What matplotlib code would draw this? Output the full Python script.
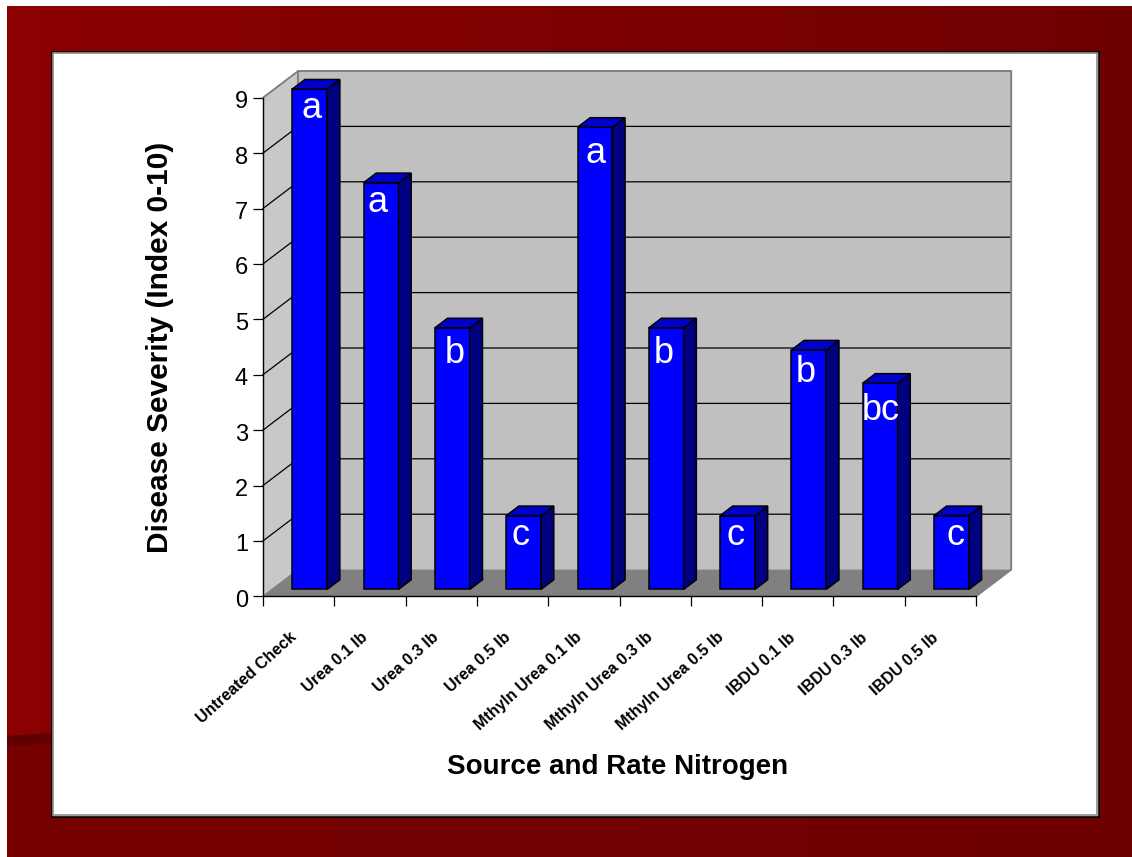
import numpy as np
import matplotlib
matplotlib.use("Agg")
import matplotlib.pyplot as plt
from matplotlib.patches import Polygon, Rectangle
from matplotlib.transforms import ScaledTranslation

categories = ["Untreated Check", "Urea 0.1 lb", "Urea 0.3 lb", "Urea 0.5 lb",
              "Mthyln Urea 0.1 lb", "Mthyln Urea 0.3 lb", "Mthyln Urea 0.5 lb",
              "IBDU 0.1 lb", "IBDU 0.3 lb", "IBDU 0.5 lb"]
severity = [9.03, 7.34, 4.72, 1.33, 8.34, 4.72, 1.33, 4.32, 3.72, 1.33]
letters = ["a", "a", "b", "c", "a", "b", "c", "b", "bc", "c"]
y_ticks = list(range(0, 10))
letter_dx = [0, -5, 1, -5, -1, -4, -3, -5, -1, 3]
letter_dy = [1, 0, -5, 0, -6, -5, 0, -2, -7, 0]

W, H = 1132, 857
plt.rcParams['font.family'] = ['Liberation Sans', 'DejaVu Sans']
fig = plt.figure(figsize=(W / 100, H / 100), dpi=100, facecolor='white')

# slide background (pixel coordinates)
bg = fig.add_axes([0, 0, 1, 1])
bg.axis('off')
grad = np.zeros((2, 256, 3))
grad[:, :, 0] = np.linspace(140, 111, 256) / 255
bg.imshow(grad, extent=(7, W, 745, 6), aspect='auto', zorder=0)
low = np.zeros((2, 256, 3))
low[:, :, 0] = np.linspace(118, 111, 256) / 255
im_low = bg.imshow(low, extent=(7, W, H, 700), aspect='auto', zorder=1)
clip = Polygon([(7, 736), (52, 733), (1132, 700), (1132, H), (7, H)], closed=True,
               transform=bg.transData, fc='none', ec='none')
bg.add_patch(clip)
im_low.set_clip_path(clip)
bg.set_xlim(0, W)
bg.set_ylim(H, 0)
bg.add_patch(Polygon([(7, 736), (52, 733), (52, 743), (7, 747)], closed=True,
                     fc='#620000', ec='none', zorder=2))
bg.add_patch(Rectangle((51.5, 51.5), 1047, 765, fc='white', ec='black', lw=1.2, zorder=3))
bg.add_patch(Rectangle((53, 53), 1044, 762, fc='none', ec='#8a8a8a', lw=1.2, zorder=4))

# chart axes: front plane of the 3-D box
x0, x1, y0, y9 = 263, 976, 596.3, 97.7
ax = fig.add_axes([x0 / W, 1 - y0 / H, (x1 - x0) / W, (y0 - y9) / H])
ax.patch.set_visible(False)
ax.set_xlim(0, len(categories))
ax.set_ylim(0, 9)
n = len(categories)
DX = 35.2 / ((x1 - x0) / n)
DY = 26.7 / ((y0 - y9) / 9)
GREY = '#808080'
WALL = '#C0C0C0'

ax.add_patch(Polygon([(0, 0), (DX, DY), (DX, 9 + DY), (0, 9)], closed=True, fc='#C8C8C8', ec='none', zorder=1, clip_on=False))
ax.add_patch(Polygon([(DX, DY), (n + DX, DY), (n + DX, 9 + DY), (DX, 9 + DY)], closed=True, fc=WALL, ec='none', zorder=1, clip_on=False))
ax.add_patch(Polygon([(0, 0), (n, 0), (n + DX, DY), (DX, DY)], closed=True, fc=GREY, ec='none', zorder=1, clip_on=False))

for v in y_ticks[1:-1]:
    ax.plot([0, DX, n + DX], [v, v + DY, v + DY], color='black', lw=0.9, zorder=2, clip_on=False)
ax.plot([0, DX, n + DX, n + DX, n], [9, 9 + DY, 9 + DY, DY, 0], color=GREY, lw=1.4, zorder=2, clip_on=False)
ax.plot([DX, DX], [DY, 9 + DY], color=GREY, lw=1.4, zorder=2, clip_on=False)
ax.plot([0, DX], [0, DY], color=GREY, lw=1.0, zorder=2, clip_on=False)

# bars
f0, f1 = 0.262, 0.62
lft, wid = 0.282, 0.49
for i, (v, lab) in enumerate(zip(severity, letters)):
    xa = i + lft + f0 * DX
    xb = xa + wid
    ya = f0 * DY
    yb = ya + v
    ddx, ddy = (f1 - f0) * DX, (f1 - f0) * DY
    edge = dict(ec='black', lw=1.1, joinstyle='miter', zorder=3, clip_on=False)
    ax.add_patch(Polygon([(xa, ya), (xb, ya), (xb, yb), (xa, yb)], closed=True, fc='#0000FF', **edge))
    ax.add_patch(Polygon([(xb, ya), (xb + ddx, ya + ddy), (xb + ddx, yb + ddy), (xb, yb)], closed=True, fc='#000080', **edge))
    ax.add_patch(Polygon([(xa, yb), (xb, yb), (xb + ddx, yb + ddy), (xa + ddx, yb + ddy)], closed=True, fc='#0000CC', **edge))
    ax.annotate(lab, (xa + wid / 2, yb),
                xytext=(1 + letter_dx[i] * 0.72, -2 + letter_dy[i] * 0.72), textcoords='offset points',
                ha='center', va='top', color='white', fontsize=26, zorder=4, annotation_clip=False)

# axes, ticks, labels
for s in ('top', 'right'):
    ax.spines[s].set_visible(False)
for s in ('left', 'bottom'):
    ax.spines[s].set_linewidth(1.0)
    ax.spines[s].set_zorder(5)
ax.set_yticks(y_ticks)
ax.tick_params(axis='y', length=7.2, width=0.9, pad=3.6, labelsize=17)
ax.yaxis.get_major_ticks()[-1].tick1line.set_color(GREY)
shift = ScaledTranslation(0, -1.5 / 72, fig.dpi_scale_trans)
for lbl in ax.get_yticklabels():
    lbl.set_transform(lbl.get_transform() + shift)
ax.set_xticks(np.arange(n + 1))
ax.set_xticklabels([])
ax.tick_params(axis='x', which='major', length=7.2, width=0.9)
ax.set_xticks(np.arange(n) + 0.37, minor=True)
ax.set_xticklabels(categories, minor=True, rotation=42, ha='right', rotation_mode='anchor',
                   fontsize=11.6, fontweight='bold')
ax.tick_params(axis='x', which='minor', length=0, pad=24)

fig.text(160 / W, 1 - 347 / H, "Disease Severity (Index 0-10)", rotation=90, ha='center', va='center',
         fontsize=21.5, fontweight='bold')
fig.text(618 / W, 1 - 766.5 / H, "Source and Rate Nitrogen", ha='center', va='center',
         fontsize=20, fontweight='bold')

fig.savefig('out.png', dpi=100)
